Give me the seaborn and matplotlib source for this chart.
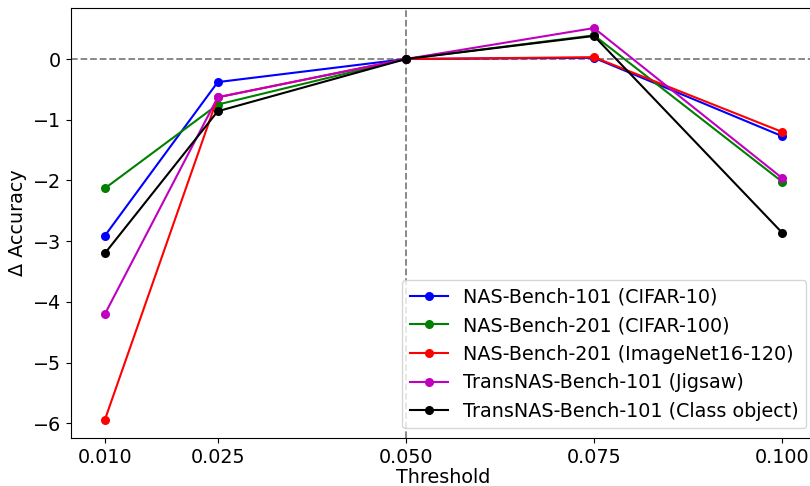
import matplotlib
matplotlib.use("Agg")
import matplotlib.pyplot as plt
import seaborn as sns
import pandas as pd

thresholds = [0.010, 0.025, 0.050, 0.075, 0.100]
tick_labels = ["0.010", "0.025", "0.050", "0.075", "0.100"]

nb101_cifar10 = [-2.91, -0.38, 0.0, 0.02, -1.27]
nb201_cifar100 = [-2.13, -0.75, 0.0, 0.39, -2.02]
nb201_imagenet = [-5.94, -0.63, 0.0, 0.03, -1.20]
trans_jigsaw = [-4.20, -0.63, 0.0, 0.51, -1.96]
trans_class = [-3.20, -0.86, 0.0, 0.38, -2.86]

series_names = [
    "NAS-Bench-101 (CIFAR-10)",
    "NAS-Bench-201 (CIFAR-100)",
    "NAS-Bench-201 (ImageNet16-120)",
    "TransNAS-Bench-101 (Jigsaw)",
    "TransNAS-Bench-101 (Class object)",
]
series_values = [nb101_cifar10, nb201_cifar100, nb201_imagenet, trans_jigsaw, trans_class]
colors = ["b", "g", "r", "m", "k"]

plt.rcParams['font.family'] = ['DejaVu Sans']
fs = 13.75

fig = plt.figure(figsize=(8.1, 4.86), dpi=100)
ax = fig.add_axes([71/810, 48/486, (816-71)/810, (438-8)/486])

for name, vals, c in zip(series_names, series_values, colors):
    df = pd.DataFrame({"Threshold": thresholds, "value": vals})
    sns.lineplot(data=df, x="Threshold", y="value", color=c, marker="o",
                 markersize=6.5, markeredgewidth=0, linewidth=1.5, label=name, ax=ax)

ax.axhline(0, color="gray", linestyle="--", linewidth=1.3, zorder=0)
ax.axvline(0.05, color="gray", linestyle="--", linewidth=1.3, zorder=0)

ax.set_xticks(thresholds)
ax.set_xticklabels(tick_labels)
ax.set_xlim(0.0055, 0.1045)
ax.set_ylim(-6.24, 0.84)
ax.tick_params(labelsize=fs)
ax.set_xlabel("Threshold", fontsize=fs, labelpad=1)
ax.set_ylabel("Δ Accuracy", fontsize=fs)
ax.legend(loc="lower right", fontsize=fs, handlelength=2.0)

fig.savefig("out.png", dpi=100)
